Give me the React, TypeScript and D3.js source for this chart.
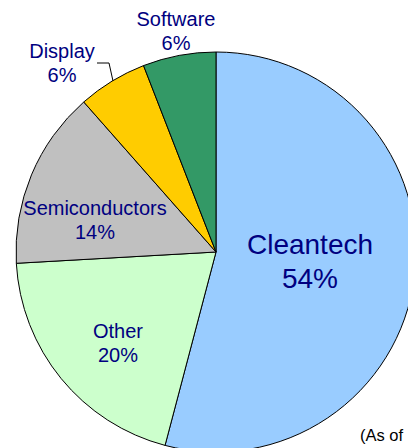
import React from "react";
import * as d3 from "d3";

const categories = ["Cleantech", "Other", "Semiconductors", "Display", "Software"];
const values = [54.1, 20.0, 14.4, 5.6, 5.9];
const valueLabels = ["54%", "20%", "14%", "6%", "6%"];
const colors = ["#99CCFF", "#CCFFCC", "#C0C0C0", "#FFCC00", "#339966"];
const labelPos: [number, number][] = [
  [310, 254],
  [118, 338],
  [95, 215],
  [62, 58],
  [176, 26],
];

export default function App() {
  const W = 408, H = 448;
  const cx = 216, cy = 252, r = 200;
  const pie = d3.pie<number>().sort(null).startAngle(0).endAngle(2 * Math.PI);
  const arcs = pie(values);
  const arc = d3.arc<d3.PieArcDatum<number>>().innerRadius(0).outerRadius(r);
  const font = "'Liberation Sans', Arial, sans-serif";
  return (
    <svg width={W} height={H} style={{ position: "absolute", left: 0, top: 0, display: "block" }}>
      <rect width={W} height={H} fill="#fff" />
      <g transform={`translate(${cx},${cy})`}>
        {arcs.map((a, i) => (
          <path key={i} d={arc(a) || ""} fill={colors[i]} stroke="#000" strokeWidth={1} strokeLinejoin="round" />
        ))}
      </g>
      <polyline points="97,63 109,63 113,81" fill="none" stroke="#000" strokeWidth={1} />
      {arcs.map((a, i) => {
        const [x, y] = labelPos[i];
        const big = i === 0;
        const fs = big ? 28 : 20;
        const dy = big ? 34 : 24;
        return (
          <text key={i} x={x} y={y} textAnchor="middle" fontFamily={font} fontSize={fs} fill="#000080">
            <tspan x={x} y={y}>{categories[i]}</tspan>
            <tspan x={x} y={y + dy}>{valueLabels[i]}</tspan>
          </text>
        );
      })}
      <text x={360} y={441} fontFamily={font} fontSize={16.5} fill="#000">(As of</text>
    </svg>
  );
}
